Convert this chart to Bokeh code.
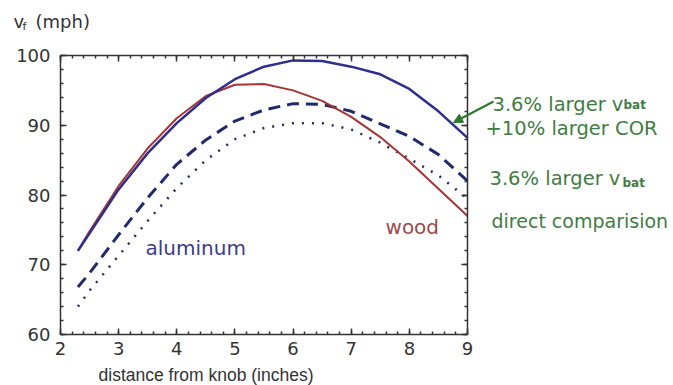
from bokeh.plotting import figure
from bokeh.models import (Range1d, LinearAxis, SingleIntervalTicker, Label, Arrow,
                          NormalHead, CustomJSTickFormatter)
from bokeh.embed import file_html
from bokeh.resources import INLINE

# ---- data ----
x_dist = [2.3, 2.5, 3.0, 3.5, 4.0, 4.5, 5.0, 5.5, 6.0, 6.5, 7.0, 7.5, 8.0, 8.5, 9.0]
al_bat_cor = [72.0, 74.5, 80.8, 86.0, 90.3, 93.9, 96.6, 98.4, 99.3, 99.2, 98.4, 97.3, 95.2, 92.0, 88.2]
wood = [72.0, 74.8, 81.3, 86.7, 91.0, 94.2, 95.8, 95.9, 95.0, 93.5, 91.2, 88.3, 84.8, 80.9, 77.0]
al_bat = [66.8, 68.8, 74.3, 79.6, 84.4, 87.9, 90.6, 92.2, 93.1, 93.0, 92.0, 90.2, 88.4, 85.8, 82.0]
al_direct = [64.0, 66.3, 71.3, 76.3, 81.0, 85.0, 88.0, 89.6, 90.3, 90.3, 89.4, 87.5, 85.2, 82.8, 79.5]

x_bounds = (2, 9)
y_bounds = (60, 100)

x_label = "distance from knob (inches)"
label_bat_cor_1 = "3.6% larger v"
label_bat_cor_2 = "+10% larger COR"
label_bat = "3.6% larger v"
label_direct = "direct comparision"
sub_bat = "bat"

AX = "#333333"
GREEN = "#3f7d3f"
TF = "DejaVu Sans"

# ---- layout: the plot box sits at these pixel edges of the 673x385 canvas ----
W, H = 673, 385
BOX_L, BOX_R, BOX_T, BOX_B = 60, 467, 55, 334
sx = (BOX_R - BOX_L) / (x_bounds[1] - x_bounds[0])
sy = (BOX_B - BOX_T) / (y_bounds[1] - y_bounds[0])
x0 = x_bounds[0] - BOX_L / sx
y1 = y_bounds[1] + BOX_T / sy

p = figure(width=W, height=H, output_backend="svg", toolbar_location=None,
           title_location=None, x_axis_location=None, y_axis_location=None,
           x_range=Range1d(x0, x0 + W / sx), y_range=Range1d(y1 - H / sy, y1),
           min_border=0, background_fill_color="white", border_fill_color="white")
p.grid.visible = False
p.outline_line_color = None

def make_axis(loc, bounds, interval, labels=True):
    ax = LinearAxis(fixed_location=loc, bounds=bounds,
                    ticker=SingleIntervalTicker(interval=interval, num_minor_ticks=5))
    ax.axis_line_color = AX
    ax.axis_line_width = 1.5
    ax.major_tick_in = 6
    ax.major_tick_out = 0
    ax.minor_tick_in = 3
    ax.minor_tick_out = 0
    ax.major_tick_line_color = AX
    ax.minor_tick_line_color = AX
    ax.major_tick_line_width = 1.5
    ax.minor_tick_line_width = 1.5
    ax.major_label_text_font = TF
    ax.major_label_text_font_size = "18px"
    ax.major_label_text_color = AX
    if not labels:
        ax.formatter = CustomJSTickFormatter(code="return ''")
        ax.major_label_standoff = 0
    return ax

xb = make_axis(y_bounds[0], x_bounds, 1)
xb.major_label_standoff = 7
yl = make_axis(x_bounds[0], y_bounds, 10)
yl.major_label_standoff = 10
p.add_layout(xb, "below")
p.add_layout(yl, "left")
p.add_layout(make_axis(y_bounds[1], x_bounds, 1, labels=False), "above")
p.add_layout(make_axis(x_bounds[1], y_bounds, 10, labels=False), "right")

# ---- curves ----
p.line(x_dist, al_direct, line_color="#2a2a66", line_width=2.5, line_dash="2 8")
p.line(x_dist, al_bat, line_color="#1f2a6e", line_width=3, line_dash="12 7")
p.line(x_dist, wood, line_color="#a83434", line_width=2)
p.line(x_dist, al_bat_cor, line_color="#2e2e8e", line_width=2.5)

# ---- texts ----
def lab(x, y, t, size, color, font=TF, style="normal"):
    p.add_layout(Label(x=x, y=y, text=t, text_font=font, text_font_size=size,
                       text_color=color, text_baseline="alphabetic", text_align="left",
                       text_font_style=style))

lab(1.192, 104.875, "v", "18px", AX)
lab(1.346, 104.158, "f", "11px", AX)
lab(1.570, 104.875, "(mph)", "18px", AX)
lab(2.654, 54.25, x_label, "17.5px", AX, font="Liberation Sans")

lab(9.430, 92.975, label_bat_cor_1, "19.5px", GREEN)
lab(11.683, 92.832, sub_bat, "12px", GREEN, style="bold")
lab(9.310, 89.534, label_bat_cor_2, "19.5px", GREEN)
lab(9.378, 82.366, label_bat, "19.5px", GREEN)
lab(11.666, 81.792, sub_bat, "12px", GREEN, style="bold")
lab(9.413, 76.201, label_direct, "19px", GREEN)

lab(3.462, 72.473, "aluminum", "20px", "#3c3c88")
lab(7.590, 75.341, "wood", "20px", "#9c4a4a")

p.add_layout(Arrow(end=NormalHead(size=9, fill_color="#2a7a2a", line_color="#2a7a2a"),
                   x_start=9.447, y_start=93.405, x_end=8.759, y_end=90.394,
                   line_color="#2a7a2a", line_width=2))

open("out.html", "w").write(file_html(p, INLINE))
